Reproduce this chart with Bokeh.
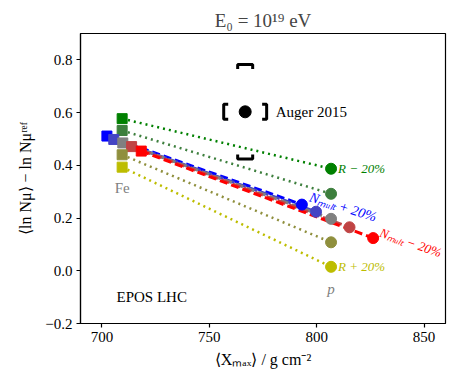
from bokeh.plotting import figure
from bokeh.models import Label, FixedTicker, CustomJSTickFormatter, Range1d
from bokeh.embed import file_html
from bokeh.resources import INLINE

# ---------------- data ----------------
variant_names = ["R − 20%", "R − 10%", "Nmult + 20%", "Nmult + 10%", "reference",
                 "Nmult − 10%", "Nmult − 20%", "R + 10%", "R + 20%"]
variant_colors = ["#008000", "#3d7f3d", "#0000ff", "#4444c4", "#808080",
                  "#c04444", "#ff0000", "#8f8f3d", "#bdbd00"]
variant_dash = ["dotted", "dotted", "dashed", "dashed", "dashed",
                "dashed", "dashed", "dotted", "dotted"]
fe_xmax = [709.4, 709.4, 702.3, 705.5, 709.7, 713.8, 718.3, 709.4, 709.4]
fe_lnmu = [0.577, 0.532, 0.511, 0.498, 0.485, 0.471, 0.454, 0.440, 0.393]
p_xmax = [806.7, 806.7, 793.1, 799.7, 806.7, 815.3, 826.3, 806.7, 806.7]
p_lnmu = [0.387, 0.292, 0.251, 0.224, 0.197, 0.165, 0.124, 0.108, 0.015]

auger_xmax = 766.7
auger_lnmu = 0.603
auger_sys_x = 10.0
auger_sys_y = 0.179

x_ticks = [700, 750, 800, 850]
y_ticks = [-0.2, 0.0, 0.2, 0.4, 0.6, 0.8]
x_lo, x_hi = 690, 860
y_lo, y_hi = -0.2, 0.9

SERIF = "Liberation Serif"
FW, FH = 365, 290

p = figure(frame_width=FW, frame_height=FH, output_backend="svg", toolbar_location=None,
           x_range=Range1d(x_lo, x_hi), y_range=Range1d(y_lo, y_hi),
           title="E₀ = 10¹⁹ eV",
           min_border_left=80, min_border_right=8, min_border_top=33, min_border_bottom=40)
p.title.align = "center"
p.title.text_font = SERIF
p.title.text_font_size = "19px"
p.title.text_font_style = "normal"
p.title.standoff = 5
p.xgrid.visible = False
p.ygrid.visible = False
p.outline_line_color = "black"
p.outline_line_width = 1.2
p.background_fill_color = "white"
p.border_fill_color = "white"

for axes in (p.xaxis, p.yaxis):
    axes.major_tick_in = 0
    axes.major_tick_out = 4
    axes.minor_tick_out = 0
    axes.minor_tick_in = 0
    axes.major_tick_line_width = 1.2
    axes.axis_line_width = 1.2
    axes.major_label_text_font = SERIF
    axes.major_label_text_font_size = "15px"
    axes.major_label_text_color = "black"
    axes.axis_label_text_font = SERIF
    axes.axis_label_text_font_size = "16px"
    axes.axis_label_text_font_style = "normal"
    axes.axis_label_text_color = "black"
    axes.major_label_standoff = 4

p.xaxis.ticker = FixedTicker(ticks=x_ticks)
p.yaxis.ticker = FixedTicker(ticks=y_ticks)
p.yaxis.formatter = CustomJSTickFormatter(code="return tick.toFixed(1).replace('-', '\u2212');")
p.xaxis.axis_label = "⟨Xₘₐₓ⟩ / g cm⁻²"
p.yaxis.axis_label = "⟨ln Nμ⟩ − ln Nμʳᵉᶠ"
p.xaxis.axis_label_standoff = 6
p.yaxis.axis_label_standoff = 8

# ------------- variant lines and markers -------------
dash_map = {"dotted": "2 4", "dashed": "8 4"}
for i in range(len(variant_names)):
    lw = 2.5 if variant_dash[i] == "dotted" else 3
    p.line([fe_xmax[i], p_xmax[i]], [fe_lnmu[i], p_lnmu[i]], line_color=variant_colors[i],
           line_width=lw, line_dash=dash_map[variant_dash[i]])
for i in range(len(variant_names)):
    p.scatter([fe_xmax[i]], [fe_lnmu[i]], marker="square", size=10,
              fill_color=variant_colors[i], line_color=variant_colors[i])
    p.scatter([p_xmax[i]], [p_lnmu[i]], marker="circle", size=11,
              fill_color=variant_colors[i], line_color=variant_colors[i])

# ------------- Auger point with systematic brackets -------------
dx_px = (x_hi - x_lo) / FW
dy_px = (y_hi - y_lo) / FH
bw, bt = 7.5, 4.5  # half-width and tick length in px
xs, ys = [], []
for s in (1, -1):
    yb = auger_lnmu + s * auger_sys_y
    xs.append([auger_xmax - bw * dx_px, auger_xmax - bw * dx_px, auger_xmax + bw * dx_px, auger_xmax + bw * dx_px])
    ys.append([yb - s * bt * dy_px, yb, yb, yb - s * bt * dy_px])
for s in (-1, 1):
    xb = auger_xmax + s * auger_sys_x
    xs.append([xb - s * bt * dx_px, xb, xb, xb - s * bt * dx_px])
    ys.append([auger_lnmu - bw * dy_px, auger_lnmu - bw * dy_px, auger_lnmu + bw * dy_px, auger_lnmu + bw * dy_px])
p.multi_line(xs, ys, line_color="black", line_width=3)
p.scatter([auger_xmax], [auger_lnmu], marker="circle", size=12, fill_color="black", line_color="black")

# ------------- text -------------
def lab(x, y, text, color="black", size="15px", style="normal", align="left", baseline="middle",
        xo=0, yo=0, angle=0):
    p.add_layout(Label(x=x, y=y, text=text, text_color=color, text_font=SERIF, text_font_size=size,
                       text_font_style=style, text_align=align, text_baseline=baseline,
                       x_offset=xo, y_offset=yo, angle=angle, angle_units="deg"))

lab(auger_xmax + auger_sys_x, auger_lnmu, "Auger 2015", xo=9)
lab(fe_xmax[8], fe_lnmu[8], "Fe", color="#808080", align="center", yo=-21)
lab(p_xmax[8], p_lnmu[8], "p", color="#808080", style="italic", align="center", yo=-22)
lab(x_lo, y_lo, "EPOS LHC", xo=36, yo=27)
lab(p_xmax[0], p_lnmu[0], "R − 20%", color=variant_colors[0], size="13px", style="italic", xo=7)
lab(p_xmax[8], p_lnmu[8], "R + 20%", color=variant_colors[8], size="13px", style="italic", xo=7)
lab(p_xmax[2], p_lnmu[2], "Nₘᵤₗₜ + 20%", color=variant_colors[2], size="14px", style="italic",
    xo=8, yo=8, angle=-17.5)
lab(p_xmax[6], p_lnmu[6], "Nₘᵤₗₜ − 20%", color=variant_colors[6], size="13px", style="italic",
    xo=7, yo=6, angle=-19)

open("out.html", "w").write(file_html(p, INLINE))
